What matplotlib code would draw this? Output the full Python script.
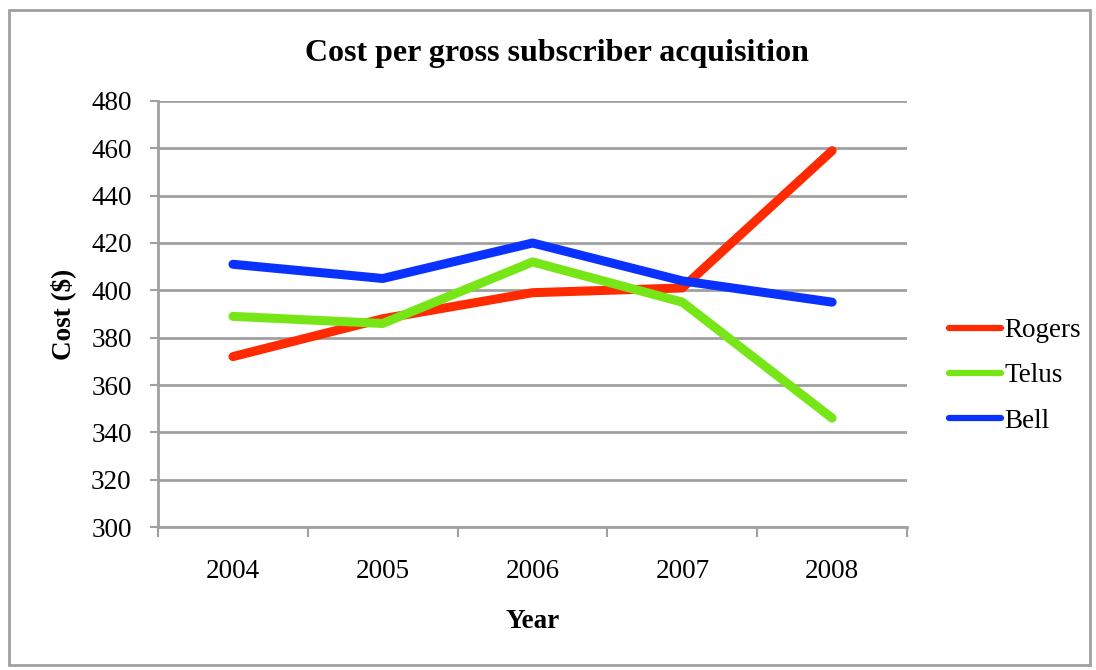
import matplotlib
matplotlib.use("Agg")
import matplotlib.pyplot as plt
from matplotlib.patches import Rectangle

years = ["2004", "2005", "2006", "2007", "2008"]
rogers = [372, 388, 399, 401, 459]
telus = [389, 386, 412, 395, 346]
bell = [411, 405, 420, 404, 395]
y_ticks = list(range(300, 481, 20))

plt.rcParams['font.family'] = ['Liberation Serif', 'DejaVu Serif']

fig = plt.figure(figsize=(10.96, 6.70), dpi=100)
ax = fig.add_axes([0.1442, 0.2134, 0.6834, 0.6359])

# cadre extérieur
fig.patches.append(Rectangle((9 / 1096, 5 / 670), 1081 / 1096, 655 / 670,
                             transform=fig.transFigure, fill=False,
                             edgecolor='#a0a0a0', linewidth=2))

x = range(len(years))
ax.plot(x, rogers, color='#ff2a00', lw=6.5, solid_capstyle='round', label='Rogers', zorder=3)
ax.plot(x, telus, color='#77e617', lw=6.5, solid_capstyle='round', label='Telus', zorder=3)
ax.plot(x, bell, color='#0a32ff', lw=6.5, solid_capstyle='round', label='Bell', zorder=3)

ax.set_xlim(-0.5, len(years) - 0.5)
ax.set_ylim(300, 480)
ax.set_yticks(y_ticks)
ax.set_xticks(x)
ax.set_xticklabels(years)
ax.set_xticks([i - 0.5 for i in range(len(years) + 1)], minor=True)
ax.tick_params(axis='x', which='major', length=0, pad=23, labelsize=19.5)
ax.tick_params(axis='x', which='minor', length=7, width=1.5, color='#a0a0a0', direction='out')
ax.tick_params(axis='y', length=6, width=1.5, color='#a0a0a0', labelsize=19.5, pad=13)

ax.grid(axis='y', color='#a0a0a0', lw=2)
for s in ['top', 'right']:
    ax.spines[s].set_visible(False)
for s in ['left', 'bottom']:
    ax.spines[s].set_color('#a0a0a0')
    ax.spines[s].set_linewidth(2)

ax.set_title('Cost per gross subscriber acquisition', fontsize=23, fontweight='bold',
             pad=29, x=0.5327)
ax.set_xlabel('Year', fontsize=19.5, fontweight='bold', labelpad=18)
ax.set_ylabel('Cost ($)', fontsize=19.5, fontweight='bold', labelpad=10.5)

leg = ax.legend(loc='center left', bbox_to_anchor=(1.041, 0.3545), frameon=False, fontsize=19.5,
                handlelength=1.95, handletextpad=0.12, labelspacing=0.75, borderaxespad=0)
for line in leg.get_lines():
    line.set_linewidth(4.5)

fig.savefig('out.png', dpi=100)
